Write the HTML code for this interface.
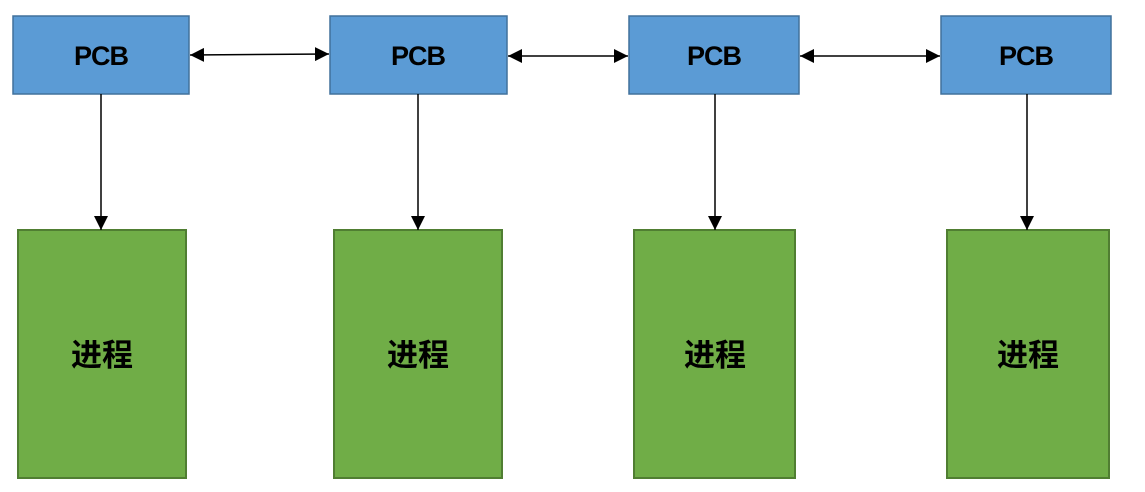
<!DOCTYPE html>
<html><head><meta charset="utf-8"><style>
html,body{margin:0;padding:0;background:#fff;width:1145px;height:492px;overflow:hidden}
</style></head><body>
<svg width="1145" height="492" xmlns="http://www.w3.org/2000/svg" style="display:block">
<defs>
<marker id="a" viewBox="0 0 10 10" refX="10" refY="5" markerWidth="14" markerHeight="14" markerUnits="userSpaceOnUse" orient="auto"><path d="M0,0 L10,5 L0,10 z" fill="#000"/></marker>
<marker id="s" viewBox="0 0 10 10" refX="0" refY="5" markerWidth="14" markerHeight="14" markerUnits="userSpaceOnUse" orient="auto"><path d="M10,0 L0,5 L10,10 z" fill="#000"/></marker>
</defs>
<g fill="#5B9BD5" stroke="#41719C" stroke-width="1.5">
<rect x="13" y="16" width="176" height="78"/>
<rect x="330" y="16" width="177" height="78"/>
<rect x="629" y="16" width="170" height="78"/>
<rect x="941" y="16" width="170" height="78"/>
</g>
<g fill="#70AD47" stroke="#507E32" stroke-width="2">
<rect x="18" y="230" width="168" height="248"/>
<rect x="334" y="230" width="168" height="248"/>
<rect x="634" y="230" width="161" height="248"/>
<rect x="947" y="230" width="162" height="248"/>
</g>
<g stroke="#000" stroke-width="1.5" fill="none">
<line x1="190" y1="55" x2="329" y2="54" marker-start="url(#s)" marker-end="url(#a)"/>
<line x1="508" y1="56" x2="628" y2="56" marker-start="url(#s)" marker-end="url(#a)"/>
<line x1="800" y1="56" x2="940" y2="56" marker-start="url(#s)" marker-end="url(#a)"/>
<line x1="101" y1="94" x2="101" y2="230" marker-end="url(#a)"/>
<line x1="418" y1="94" x2="418" y2="230" marker-end="url(#a)"/>
<line x1="715" y1="94" x2="715" y2="230" marker-end="url(#a)"/>
<line x1="1027" y1="94" x2="1027" y2="230" marker-end="url(#a)"/>
</g>
<g font-family="Liberation Sans, Noto Sans CJK SC, sans-serif" font-size="27" fill="#000" text-anchor="middle" style="font-weight:600;letter-spacing:-1px">
<text x="101" y="65">PCB</text>
<text x="418" y="65">PCB</text>
<text x="714" y="65">PCB</text>
<text x="1026" y="65">PCB</text>
</g>
<g font-family="Liberation Sans, Noto Sans CJK SC, sans-serif" font-size="31" fill="#000" text-anchor="middle" style="font-weight:600">
<text x="102" y="366">进程</text>
<text x="418" y="366">进程</text>
<text x="715" y="366">进程</text>
<text x="1028" y="366">进程</text>
</g>
</svg>
</body></html>
